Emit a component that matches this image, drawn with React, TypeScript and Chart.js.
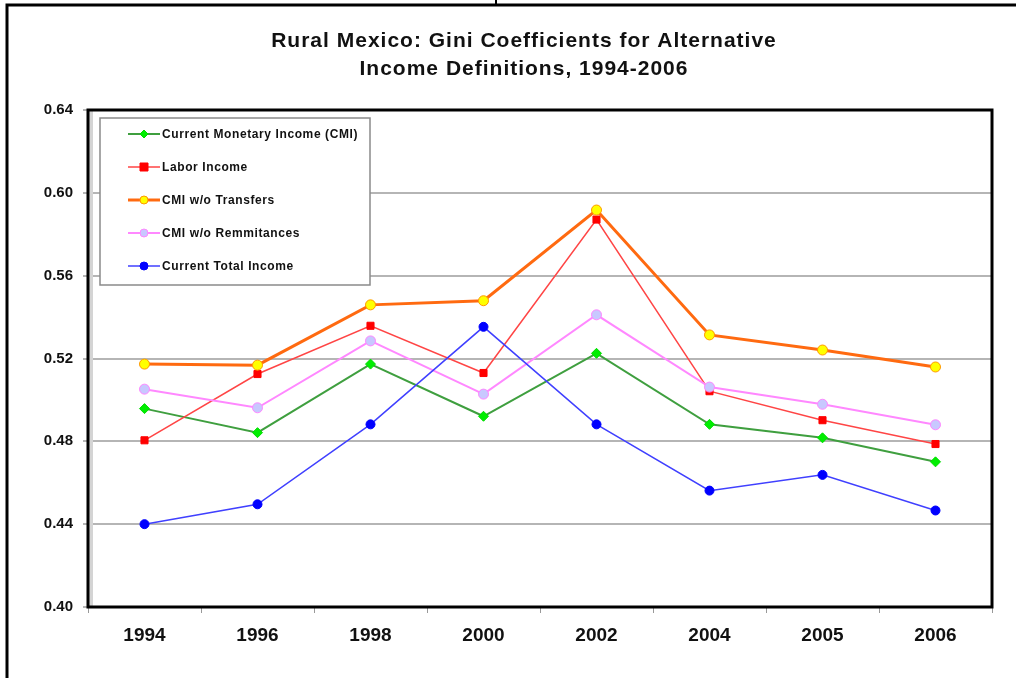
import React, { useEffect, useRef } from "react";
import { Chart, registerables } from "chart.js";

Chart.register(...registerables);

const years = ["1994", "1996", "1998", "2000", "2002", "2004", "2005", "2006"];
const cmi = [0.4958, 0.4842, 0.5173, 0.4921, 0.5225, 0.4882, 0.4817, 0.4701];
const labor = [0.4805, 0.5125, 0.5358, 0.513, 0.5871, 0.5042, 0.4902, 0.4787];
const noTransfers = [0.5173, 0.5168, 0.5459, 0.5479, 0.5917, 0.5314, 0.5241, 0.5159];
const noRemittances = [0.5052, 0.4962, 0.5285, 0.5028, 0.5411, 0.5062, 0.4979, 0.488];
const totalIncome = [0.44, 0.4496, 0.4882, 0.5353, 0.4882, 0.4562, 0.4638, 0.4466];
const yTicks = [0.4, 0.44, 0.48, 0.52, 0.56, 0.6, 0.64];
const titleLines = ["Rural Mexico: Gini Coefficients for Alternative", "Income Definitions, 1994-2006"];
const seriesNames = [
  "Current Monetary Income (CMI)",
  "Labor Income",
  "CMI w/o Transfers",
  "CMI w/o Remmitances",
  "Current Total Income",
];

const FONT = "Arial, 'Liberation Sans', sans-serif";

const framePlugin = {
  id: "framePlugin",
  beforeDraw(chart: any) {
    const ctx = chart.ctx;
    ctx.save();
    ctx.fillStyle = "#ffffff";
    ctx.fillRect(0, 0, chart.width, chart.height);
    // outer border
    ctx.strokeStyle = "#000";
    ctx.lineWidth = 3;
    ctx.beginPath();
    ctx.moveTo(7, chart.height + 5);
    ctx.lineTo(7, 5);
    ctx.lineTo(chart.width + 5, 5);
    ctx.stroke();
    ctx.lineWidth = 2;
    ctx.beginPath();
    ctx.moveTo(496, 0);
    ctx.lineTo(496, 5);
    ctx.stroke();
    // title
    ctx.fillStyle = "#111";
    ctx.font = `bold 21px ${FONT}`;
    ctx.letterSpacing = "1px";
    ctx.textAlign = "center";
    ctx.textBaseline = "middle";
    ctx.fillText(titleLines[0], 524, 41);
    ctx.fillText(titleLines[1], 524, 69);
    ctx.letterSpacing = "0px";
    ctx.restore();
  },
  afterDraw(chart: any) {
    const ctx = chart.ctx;
    const a = chart.chartArea;
    ctx.save();
    // plot border with shadow
    ctx.fillStyle = "#d4d4d4";
    ctx.fillRect(a.left + 1, a.top, 4, a.bottom - a.top);
    ctx.strokeStyle = "#000";
    ctx.lineWidth = 3;
    ctx.strokeRect(a.left, a.top, a.right - a.left, a.bottom - a.top);

    // legend
    const bx = 100, by = 118, bw = 270, bh = 167;
    ctx.fillStyle = "#fff";
    ctx.fillRect(bx, by, bw, bh);
    ctx.strokeStyle = "#8a8a8a";
    ctx.lineWidth = 1.5;
    ctx.strokeRect(bx, by, bw, bh);
    chart.data.datasets.forEach((ds: any, i: number) => {
      const y = 134 + i * 33;
      ctx.strokeStyle = ds.borderColor;
      ctx.lineWidth = ds.borderWidth;
      ctx.beginPath();
      ctx.moveTo(128, y);
      ctx.lineTo(160, y);
      ctx.stroke();
      const r = 4;
      ctx.fillStyle = ds.pointBackgroundColor;
      ctx.strokeStyle = ds.pointBorderColor;
      ctx.lineWidth = 1;
      ctx.beginPath();
      if (ds.pointStyle === "rect") {
        ctx.rect(144 - r, y - r, 2 * r, 2 * r);
      } else if (ds.pointStyle === "rectRot") {
        ctx.moveTo(144, y - r);
        ctx.lineTo(144 + r, y);
        ctx.lineTo(144, y + r);
        ctx.lineTo(144 - r, y);
        ctx.closePath();
      } else {
        ctx.arc(144, y, r, 0, Math.PI * 2);
      }
      ctx.fill();
      ctx.stroke();
      ctx.fillStyle = "#111";
      ctx.font = `bold 12px ${FONT}`;
      ctx.letterSpacing = "0.6px";
      ctx.textAlign = "left";
      ctx.textBaseline = "middle";
      ctx.fillText(seriesNames[i], 162, y + 1);
      ctx.letterSpacing = "0px";
    });
    ctx.restore();
  },
};

export default function App() {
  const ref = useRef<HTMLCanvasElement>(null);
  useEffect(() => {
    document.body.style.margin = "0";
    const mk = (
      data: number[],
      line: string,
      width: number,
      style: string,
      fill: string,
      border: string,
      radius: number,
      i: number
    ) => ({
      label: seriesNames[i],
      data,
      borderColor: line,
      borderWidth: width,
      pointStyle: style,
      pointBackgroundColor: fill,
      pointBorderColor: border,
      pointBorderWidth: 1,
      pointRadius: radius,
      tension: 0,
      fill: false,
      order: 4 - i,
    });
    const chart = new Chart(ref.current as HTMLCanvasElement, {
      type: "line",
      data: {
        labels: years,
        datasets: [
          mk(cmi, "#3f9f3f", 2, "rectRot", "#00ee00", "#00dd00", 5, 0),
          mk(labor, "#ff4545", 1.5, "rect", "#ff0000", "#ff0000", 5, 1),
          mk(noTransfers, "#ff6a10", 3, "circle", "#ffff00", "#ff9900", 5, 2),
          mk(noRemittances, "#ff88ff", 2, "circle", "#c8c8ff", "#ff88ff", 5, 3),
          mk(totalIncome, "#4040ff", 1.5, "circle", "#0000ff", "#0000ff", 4.5, 4),
        ] as any,
      },
      options: {
        animation: false,
        responsive: false,
        maintainAspectRatio: false,
        layout: { padding: { left: 20, top: 110, right: 24, bottom: 0 } },
        plugins: { legend: { display: false }, tooltip: { enabled: false }, title: { display: false } },
        scales: {
          x: {
            offset: true,
            afterFit(scale: any) {
              scale.height = 678 - 607;
            },
            grid: { offset: true, drawOnChartArea: false, drawTicks: true, tickLength: 6, color: "#999" },
            border: { display: false },
            ticks: { color: "#111", font: { family: FONT, size: 19, weight: "bold" }, padding: 11, maxRotation: 0 },
          },
          y: {
            min: 0.4,
            max: 0.64,
            afterFit(scale: any) {
              scale.width = 68;
            },
            afterBuildTicks(scale: any) {
              scale.ticks = yTicks.map((v) => ({ value: v }));
            },
            grid: { color: "#b5b5b5", lineWidth: 2, tickLength: 5 },
            border: { display: false },
            ticks: {
              color: "#111",
              font: { family: FONT, size: 15, weight: "bold" },
              padding: 10,
              callback: (v: any) => Number(v).toFixed(2),
            },
          },
        },
      } as any,
      plugins: [framePlugin],
    });
    return () => chart.destroy();
  }, []);
  return (
    <div style={{ width: 1016, height: 678 }}>
      <canvas ref={ref} width={1016} height={678} style={{ display: "block" }} />
    </div>
  );
}
